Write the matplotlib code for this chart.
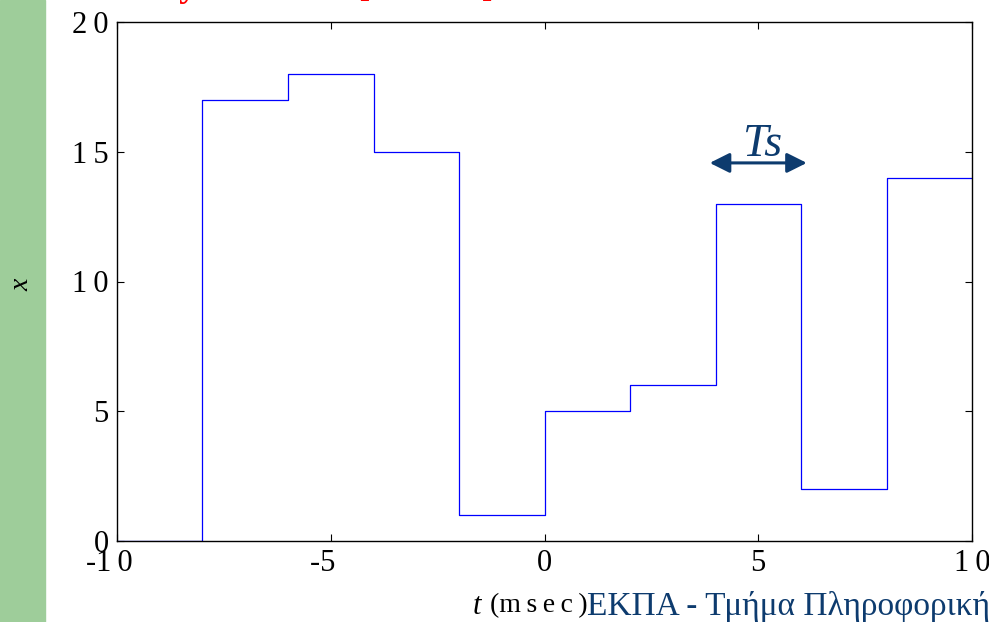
import matplotlib
matplotlib.use("Agg")
import matplotlib.pyplot as plt
from matplotlib.patches import Rectangle

# δεδομένα: έξοδος συγκράτησης μηδενικής τάξης, Ts = 2 msec
t_edges = [-10, -8, -6, -4, -2, 0, 2, 4, 6, 8, 10]
x_vals = [0, 17, 18, 15, 1, 5, 6, 13, 2, 14]
x_ticks = [-10, -5, 0, 5, 10]
y_ticks = [0, 5, 10, 15, 20]

SERIF = ["Liberation Serif", "DejaVu Serif"]
NAVY = "#0d3b6e"


def spaced(v):
    # οι ετικέτες της αναφοράς έχουν αραιά ψηφία
    s = "\u2009".join(str(abs(v)))
    return "-" + s + "\u00a0\u00a0" if v < 0 else s


fig = plt.figure(figsize=(9.89, 6.22), dpi=100)
fig.patches.append(Rectangle((0, 0), 45 / 989, 1, transform=fig.transFigure,
                             color="#9ecd9a", zorder=0))

ax = fig.add_axes([117 / 989, 1 - 541 / 622, 855 / 989, 519 / 622])
ax.step(t_edges, x_vals + [x_vals[-1]], where="post", color="#0000ff", lw=0.9)
ax.set_xlim(-10, 10)
ax.set_ylim(0, 20)
ax.set_xticks(x_ticks)
ax.set_yticks(y_ticks)
ax.set_xticklabels([spaced(v) for v in x_ticks], family=SERIF, fontsize=22)
ax.set_yticklabels([spaced(v) for v in y_ticks], family=SERIF, fontsize=22)
ax.tick_params(direction="in", top=True, right=True, length=5, width=0.8,
               pad=6)
for s in ax.spines.values():
    s.set_linewidth(1.0)

# βέλος Ts
ax.annotate("", xy=(3.8, 14.57), xytext=(6.2, 14.57),
            arrowprops=dict(arrowstyle="<|-|>", color=NAVY, lw=2.2,
                            mutation_scale=30))
ax.text(5.1, 14.84, "Ts", family=SERIF, style="italic", fontsize=33,
        color=NAVY, ha="center", va="baseline")

fig.text(22 / 989, 1 - 285 / 622, "x", family=SERIF, style="italic",
         fontsize=20, rotation=90, ha="center", va="center")
fig.text(473 / 989, 1 - 606 / 622, "t", family=SERIF, style="italic",
         fontsize=22, ha="left", va="center")
fig.text(588 / 989, 1 - 606 / 622, "(m\u2009s\u2009e\u2009c\u2009)", family=SERIF,
         fontsize=20, ha="right", va="center")
fig.text(587 / 989, 1 - 606 / 622, "ΕΚΠΑ - Τμήμα Πληροφορικής", family=SERIF,
         fontsize=24, color=NAVY, ha="left", va="center")

# τίτλος που κόβεται στο πάνω άκρο
fig.text(142 / 989, 1 + 4 / 622, "Η y ισούται  x[ n ·  Ts ]", family=SERIF,
         fontsize=26, weight="bold", color="red", ha="left", va="baseline")

fig.savefig("out.png", dpi=100)
